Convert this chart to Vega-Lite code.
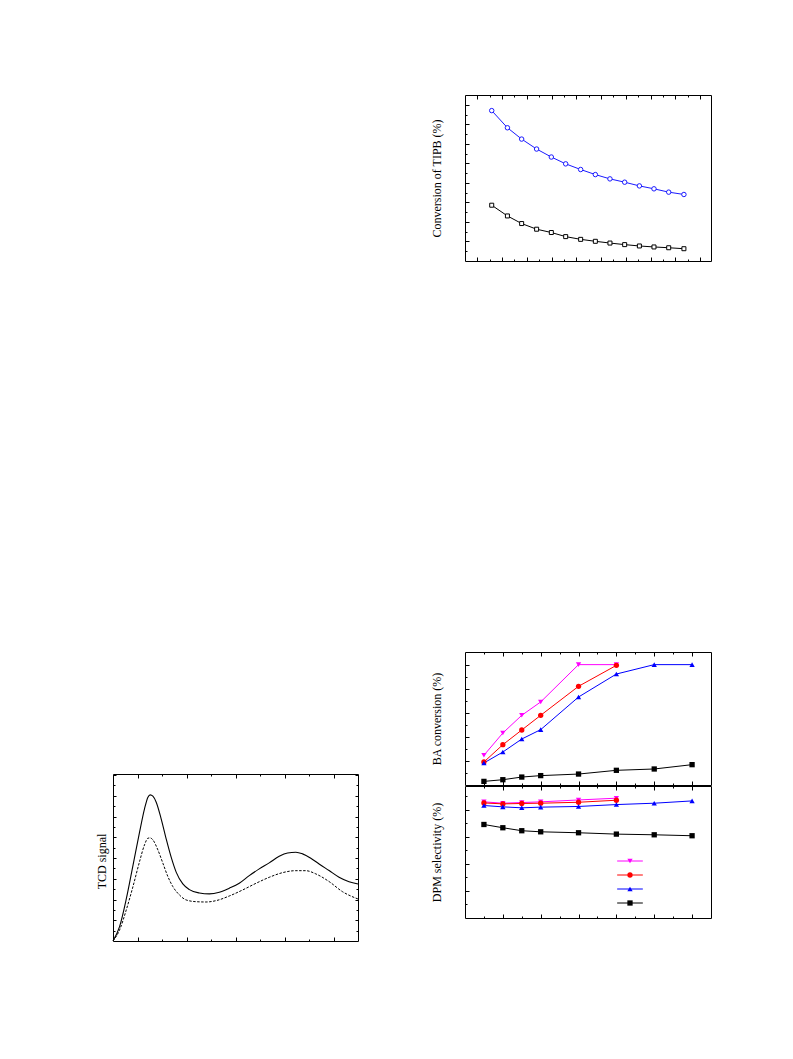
{
  "$schema": "https://vega.github.io/schema/vega-lite/v6.json",
  "background": "white",
  "padding": {"left": 95, "top": 94, "right": 5, "bottom": 5},
  "config": {
    "view": {"stroke": "black", "strokeWidth": 1},
    "axis": {"labels": false, "domain": false, "grid": false, "tickColor": "black", "tickWidth": 1, "titleFont": "Liberation Serif", "titleFontSize": 12, "titleFontWeight": "normal", "titleColor": "black"}
  },
  "datasets": {
    "tipb": [
      {"series": "A", "t": 21.6, "conv": 77.1}, {"series": "A", "t": 34.3, "conv": 68.3}, {"series": "A", "t": 45.8, "conv": 62.5},
      {"series": "A", "t": 57.9, "conv": 57.4}, {"series": "A", "t": 69.8, "conv": 53.3}, {"series": "A", "t": 81.4, "conv": 49.8},
      {"series": "A", "t": 93.5, "conv": 46.9}, {"series": "A", "t": 105.4, "conv": 44.3}, {"series": "A", "t": 117.2, "conv": 42.1},
      {"series": "A", "t": 129.1, "conv": 40.4}, {"series": "A", "t": 141.0, "conv": 38.5}, {"series": "A", "t": 152.8, "conv": 37.0},
      {"series": "A", "t": 164.7, "conv": 35.3}, {"series": "A", "t": 177.0, "conv": 34.1},
      {"series": "B", "t": 21.6, "conv": 28.6}, {"series": "B", "t": 34.3, "conv": 23.1}, {"series": "B", "t": 45.8, "conv": 19.2},
      {"series": "B", "t": 57.9, "conv": 16.3}, {"series": "B", "t": 69.8, "conv": 14.6}, {"series": "B", "t": 81.4, "conv": 12.5},
      {"series": "B", "t": 93.5, "conv": 11.1}, {"series": "B", "t": 105.4, "conv": 10.1}, {"series": "B", "t": 117.2, "conv": 9.2},
      {"series": "B", "t": 129.1, "conv": 8.4}, {"series": "B", "t": 141.0, "conv": 7.7}, {"series": "B", "t": 152.8, "conv": 7.2},
      {"series": "B", "t": 164.7, "conv": 6.8}, {"series": "B", "t": 177.0, "conv": 6.3}
    ],
    "catalysis": [
      {"series": "A", "x": 1, "ba": 24.7, "dpm": 85.7}, {"series": "A", "x": 2, "ba": 43.2, "dpm": 84.7}, {"series": "A", "x": 3, "ba": 57.9, "dpm": 85.2},
      {"series": "A", "x": 4, "ba": 69.0, "dpm": 85.7}, {"series": "A", "x": 6, "ba": 100, "dpm": 87.1}, {"series": "A", "x": 8, "ba": 100, "dpm": 88.4},
      {"series": "B", "x": 1, "ba": 19.1, "dpm": 84.9}, {"series": "B", "x": 2, "ba": 33.5, "dpm": 84.2}, {"series": "B", "x": 3, "ba": 45.7, "dpm": 84.5},
      {"series": "B", "x": 4, "ba": 57.9, "dpm": 84.7}, {"series": "B", "x": 6, "ba": 82.0, "dpm": 85.4}, {"series": "B", "x": 8, "ba": 99.4, "dpm": 86.9},
      {"series": "C", "x": 1, "ba": 18.3, "dpm": 83.0}, {"series": "C", "x": 2, "ba": 27.4, "dpm": 82.0}, {"series": "C", "x": 3, "ba": 38.2, "dpm": 81.3},
      {"series": "C", "x": 4, "ba": 46.0, "dpm": 81.8}, {"series": "C", "x": 6, "ba": 73.1, "dpm": 82.3}, {"series": "C", "x": 8, "ba": 92.2, "dpm": 83.7},
      {"series": "C", "x": 10, "ba": 100, "dpm": 84.7}, {"series": "C", "x": 12, "ba": 100, "dpm": 86.4},
      {"series": "D", "x": 1, "ba": 3.0, "dpm": 69.0}, {"series": "D", "x": 2, "ba": 4.4, "dpm": 66.6}, {"series": "D", "x": 3, "ba": 6.6, "dpm": 64.4},
      {"series": "D", "x": 4, "ba": 7.8, "dpm": 63.6}, {"series": "D", "x": 6, "ba": 9.1, "dpm": 62.9}, {"series": "D", "x": 8, "ba": 12.2, "dpm": 61.9},
      {"series": "D", "x": 10, "ba": 13.3, "dpm": 61.4}, {"series": "D", "x": 12, "ba": 16.9, "dpm": 60.7}
    ],
    "tcd": [
      {"series": "solid", "temp": 50, "signal": 0}, {"series": "solid", "temp": 63.4, "signal": 1.38}, {"series": "solid", "temp": 77.1, "signal": 4.05},
      {"series": "solid", "temp": 90.7, "signal": 7.27}, {"series": "solid", "temp": 104.2, "signal": 10.49}, {"series": "solid", "temp": 114.3, "signal": 12.74},
      {"series": "solid", "temp": 121.3, "signal": 13.87}, {"series": "solid", "temp": 125.9, "signal": 14.09}, {"series": "solid", "temp": 131.4, "signal": 13.96},
      {"series": "solid", "temp": 138.2, "signal": 13.38}, {"series": "solid", "temp": 148.3, "signal": 11.78}, {"series": "solid", "temp": 158.5, "signal": 9.85},
      {"series": "solid", "temp": 168.7, "signal": 8.08}, {"series": "solid", "temp": 178.9, "signal": 6.64}, {"series": "solid", "temp": 192.5, "signal": 5.50},
      {"series": "solid", "temp": 205.9, "signal": 4.95}, {"series": "solid", "temp": 226.3, "signal": 4.63}, {"series": "solid", "temp": 246.7, "signal": 4.54},
      {"series": "solid", "temp": 267.0, "signal": 4.70}, {"series": "solid", "temp": 287.4, "signal": 5.09}, {"series": "solid", "temp": 307.7, "signal": 5.57},
      {"series": "solid", "temp": 328.1, "signal": 6.30}, {"series": "solid", "temp": 348.5, "signal": 6.95}, {"series": "solid", "temp": 368.8, "signal": 7.53},
      {"series": "solid", "temp": 389.2, "signal": 8.17}, {"series": "solid", "temp": 406.3, "signal": 8.49}, {"series": "solid", "temp": 423.2, "signal": 8.56},
      {"series": "solid", "temp": 436.8, "signal": 8.40}, {"series": "solid", "temp": 453.7, "signal": 7.98}, {"series": "solid", "temp": 470.6, "signal": 7.43},
      {"series": "solid", "temp": 491.0, "signal": 6.79}, {"series": "solid", "temp": 511.3, "signal": 6.15}, {"series": "solid", "temp": 531.7, "signal": 5.72},
      {"series": "solid", "temp": 550, "signal": 5.50},
      {"series": "dashed", "temp": 50, "signal": 0}, {"series": "dashed", "temp": 63.4, "signal": 1.06}, {"series": "dashed", "temp": 77.1, "signal": 3.00},
      {"series": "dashed", "temp": 90.7, "signal": 5.24}, {"series": "dashed", "temp": 104.2, "signal": 7.66}, {"series": "dashed", "temp": 114.3, "signal": 9.27},
      {"series": "dashed", "temp": 121.3, "signal": 9.91}, {"series": "dashed", "temp": 125.9, "signal": 9.94}, {"series": "dashed", "temp": 131.4, "signal": 9.75},
      {"series": "dashed", "temp": 141.6, "signal": 8.78}, {"series": "dashed", "temp": 151.8, "signal": 7.50}, {"series": "dashed", "temp": 162.0, "signal": 6.21},
      {"series": "dashed", "temp": 172.2, "signal": 5.24}, {"series": "dashed", "temp": 185.6, "signal": 4.44}, {"series": "dashed", "temp": 199.2, "signal": 3.96},
      {"series": "dashed", "temp": 219.6, "signal": 3.79}, {"series": "dashed", "temp": 239.9, "signal": 3.76}, {"series": "dashed", "temp": 260.3, "signal": 3.89},
      {"series": "dashed", "temp": 287.4, "signal": 4.34}, {"series": "dashed", "temp": 314.6, "signal": 4.92}, {"series": "dashed", "temp": 341.7, "signal": 5.56},
      {"series": "dashed", "temp": 368.8, "signal": 6.14}, {"series": "dashed", "temp": 396.1, "signal": 6.59}, {"series": "dashed", "temp": 423.2, "signal": 6.78},
      {"series": "dashed", "temp": 443.5, "signal": 6.78}, {"series": "dashed", "temp": 463.9, "signal": 6.47}, {"series": "dashed", "temp": 491.0, "signal": 5.73},
      {"series": "dashed", "temp": 518.2, "signal": 4.76}, {"series": "dashed", "temp": 550, "signal": 4.05}
    ]
  },
  "spacing": 69,
  "hconcat": [
    {
      "spacing": 1,
      "vconcat": [
        {"width": 245, "height": 677, "view": {"stroke": null}, "data": {"values": [{}]}, "mark": {"type": "point", "opacity": 0}},
        {
          "width": 245, "height": 167,
          "data": {"name": "tcd"},
          "resolve": {"axis": {"x": "independent", "y": "independent"}},
          "layer": [
            {
              "transform": [{"filter": "datum.series === 'solid'"}],
              "mark": {"type": "line", "color": "black", "strokeWidth": 1.1, "interpolate": "monotone"},
              "encoding": {
                "x": {"field": "temp", "type": "quantitative", "scale": {"domain": [50, 550], "nice": false, "zero": false},
                      "axis": {"orient": "bottom", "title": null, "values": [100, 150, 200, 250, 300, 350, 400, 450, 500], "tickSize": {"condition": {"test": "datum.value % 100 === 0", "value": -4}, "value": -2}}},
                "y": {"field": "signal", "type": "quantitative", "scale": {"domain": [0, 16.1], "nice": false, "zero": false},
                      "axis": {"orient": "left", "title": "TCD signal", "titlePadding": 4, "titleY": 87, "values": [1,2,3,4,5,6,7,8,9,10,11,12,13,14,15,16], "tickSize": {"condition": {"test": "datum.value % 2 === 0", "value": -3}, "value": -2}}}
              }
            },
            {
              "transform": [{"filter": "datum.series === 'dashed'"}],
              "mark": {"type": "line", "color": "black", "strokeWidth": 1, "strokeDash": [2.5, 1.5], "interpolate": "monotone"},
              "encoding": {
                "x": {"field": "temp", "type": "quantitative",
                      "axis": {"orient": "top", "title": null, "values": [100, 150, 200, 250, 300, 350, 400, 450, 500], "tickSize": {"condition": {"test": "datum.value % 100 === 0", "value": -4}, "value": -2}}},
                "y": {"field": "signal", "type": "quantitative",
                      "axis": {"orient": "right", "title": null, "values": [1,2,3,4,5,6,7,8,9,10,11,12,13,14,15,16], "tickSize": {"condition": {"test": "datum.value % 2 === 0", "value": -3}, "value": -2}}}
              }
            }
          ]
        }
      ]
    },
    {
      "spacing": 389,
      "vconcat": [
        {
          "width": 246, "height": 166,
          "data": {"name": "tipb"},
          "resolve": {"axis": {"x": "independent", "y": "independent"}},
          "layer": [
            {
              "transform": [{"filter": "datum.series === 'A'"}],
              "mark": {"type": "line", "color": "#1a1aff", "strokeWidth": 1},
              "encoding": {
                "x": {"field": "t", "type": "quantitative", "scale": {"domain": [0, 198.9], "nice": false, "zero": false},
                      "axis": {"orient": "bottom", "title": null, "values": [10,20,30,40,50,60,70,80,90,100,110,120,130,140,150,160,170,180,190], "tickSize": {"condition": {"test": "datum.value % 20 === 10", "value": -4}, "value": -2}}},
                "y": {"field": "conv", "type": "quantitative", "scale": {"domain": [0, 85.1], "nice": false, "zero": false},
                      "axis": {"orient": "left", "title": "Conversion of TIPB (%)", "titlePadding": 21, "values": [5,10,15,20,25,30,35,40,45,50,55,60,65,70,75,80], "tickSize": {"condition": {"test": "datum.value % 10 === 0", "value": -4}, "value": -2}}}
              }
            },
            {
              "transform": [{"filter": "datum.series === 'A'"}],
              "mark": {"type": "point", "shape": "circle", "filled": true, "fill": "white", "stroke": "#1a1aff", "strokeWidth": 1, "size": 20, "opacity": 1},
              "encoding": {
                "x": {"field": "t", "type": "quantitative",
                      "axis": {"orient": "top", "title": null, "values": [10,20,30,40,50,60,70,80,90,100,110,120,130,140,150,160,170,180,190], "tickSize": {"condition": {"test": "datum.value % 20 === 10", "value": -4}, "value": -2}}},
                "y": {"field": "conv", "type": "quantitative", "axis": null}
              }
            },
            {
              "transform": [{"filter": "datum.series === 'B'"}],
              "mark": {"type": "line", "color": "black", "strokeWidth": 1},
              "encoding": {
                "x": {"field": "t", "type": "quantitative", "axis": null},
                "y": {"field": "conv", "type": "quantitative", "axis": null}
              }
            },
            {
              "transform": [{"filter": "datum.series === 'B'"}],
              "mark": {"type": "point", "shape": "square", "filled": true, "fill": "white", "stroke": "black", "strokeWidth": 1, "size": 16, "opacity": 1},
              "encoding": {
                "x": {"field": "t", "type": "quantitative", "axis": null},
                "y": {"field": "conv", "type": "quantitative", "axis": null}
              }
            }
          ]
        },
        {
          "spacing": -2,
          "vconcat": [
            {
              "width": 246, "height": 133,
              "data": {"name": "catalysis"},
              "resolve": {"axis": {"x": "independent", "y": "independent"}},
              "layer": [
                {
                  "mark": {"type": "line", "strokeWidth": 1},
                  "encoding": {
                    "x": {"field": "x", "type": "quantitative", "scale": {"domain": [0, 13], "nice": false, "zero": false},
                          "axis": {"orient": "bottom", "title": null, "values": [1,2,3,4,5,6,7,8,9,10,11,12], "tickSize": {"condition": {"test": "datum.value % 2 === 0", "value": -4}, "value": -2}}},
                    "y": {"field": "ba", "type": "quantitative", "scale": {"domain": [0, 110.5], "nice": false, "zero": false},
                          "axis": {"orient": "left", "title": "BA conversion (%)", "titlePadding": 21, "values": [10,20,30,40,50,60,70,80,90,100], "tickSize": {"condition": {"test": "datum.value % 20 === 0", "value": -4}, "value": -2}}},
                    "stroke": {"field": "series", "type": "nominal", "scale": {"domain": ["A", "B", "C", "D"], "range": ["#ff00ff", "#ff0000", "#0000ff", "#000000"]},
                               "legend": {"orient": "none", "legendX": 512, "legendY": 761, "direction": "vertical", "title": null, "labelExpr": "''", "symbolType": "M-4.85,0H4.85", "symbolSize": 28, "symbolStrokeWidth": 1, "padding": 0, "rowPadding": 4}}
                  }
                },
                {
                  "mark": {"type": "point", "filled": true, "opacity": 1, "size": 28, "strokeWidth": 0},
                  "encoding": {
                    "x": {"field": "x", "type": "quantitative",
                          "axis": {"orient": "top", "title": null, "values": [1,2,3,4,5,6,7,8,9,10,11,12], "tickSize": {"condition": {"test": "datum.value % 2 === 0", "value": -4}, "value": -2}}},
                    "y": {"field": "ba", "type": "quantitative", "axis": null},
                    "color": {"field": "series", "type": "nominal", "scale": {"range": ["#ff00ff", "#ff0000", "#0000ff", "#000000"]},
                              "legend": {"orient": "none", "legendX": 512, "legendY": 761, "direction": "vertical", "title": null, "labelExpr": "''", "symbolSize": 28, "padding": 0, "rowPadding": 4}},
                    "shape": {"field": "series", "type": "nominal", "scale": {"range": ["triangle-down", "circle", "triangle-up", "square"]},
                              "legend": {"orient": "none", "legendX": 512, "legendY": 761, "direction": "vertical", "title": null, "labelExpr": "''", "symbolSize": 28, "padding": 0, "rowPadding": 4}}
                  }
                }
              ]
            },
            {
              "width": 246, "height": 132,
              "data": {"name": "catalysis"},
              "resolve": {"axis": {"x": "independent", "y": "independent"}},
              "layer": [
                {
                  "mark": {"type": "line", "strokeWidth": 1},
                  "encoding": {
                    "x": {"field": "x", "type": "quantitative", "scale": {"domain": [0, 13], "nice": false, "zero": false},
                          "axis": {"orient": "bottom", "title": null, "values": [1,2,3,4,5,6,7,8,9,10,11,12], "tickSize": {"condition": {"test": "datum.value % 2 === 0", "value": -4}, "value": -2}}},
                    "y": {"field": "dpm", "type": "quantitative", "scale": {"domain": [0, 97.4], "nice": false, "zero": false},
                          "axis": {"orient": "left", "title": "DPM selectivity (%)", "titlePadding": 21, "values": [10,20,30,40,50,60,70,80,90], "tickSize": {"condition": {"test": "datum.value % 20 === 0", "value": -4}, "value": -2}}},
                    "stroke": {"field": "series", "type": "nominal", "scale": {"domain": ["A", "B", "C", "D"], "range": ["#ff00ff", "#ff0000", "#0000ff", "#000000"]},
                               "legend": {"orient": "none", "legendX": 512, "legendY": 761, "direction": "vertical", "title": null, "labelExpr": "''", "symbolType": "M-4.85,0H4.85", "symbolSize": 28, "symbolStrokeWidth": 1, "padding": 0, "rowPadding": 4}}
                  }
                },
                {
                  "mark": {"type": "point", "filled": true, "opacity": 1, "size": 28, "strokeWidth": 0},
                  "encoding": {
                    "x": {"field": "x", "type": "quantitative",
                          "axis": {"orient": "top", "title": null, "values": [1,2,3,4,5,6,7,8,9,10,11,12], "tickSize": {"condition": {"test": "datum.value % 2 === 0", "value": -4}, "value": -2}}},
                    "y": {"field": "dpm", "type": "quantitative", "axis": null},
                    "color": {"field": "series", "type": "nominal", "scale": {"range": ["#ff00ff", "#ff0000", "#0000ff", "#000000"]},
                              "legend": {"orient": "none", "legendX": 512, "legendY": 761, "direction": "vertical", "title": null, "labelExpr": "''", "symbolSize": 28, "padding": 0, "rowPadding": 4}},
                    "shape": {"field": "series", "type": "nominal", "scale": {"range": ["triangle-down", "circle", "triangle-up", "square"]},
                              "legend": {"orient": "none", "legendX": 512, "legendY": 761, "direction": "vertical", "title": null, "labelExpr": "''", "symbolSize": 28, "padding": 0, "rowPadding": 4}}
                  }
                }
              ]
            }
          ]
        }
      ]
    }
  ]
}
